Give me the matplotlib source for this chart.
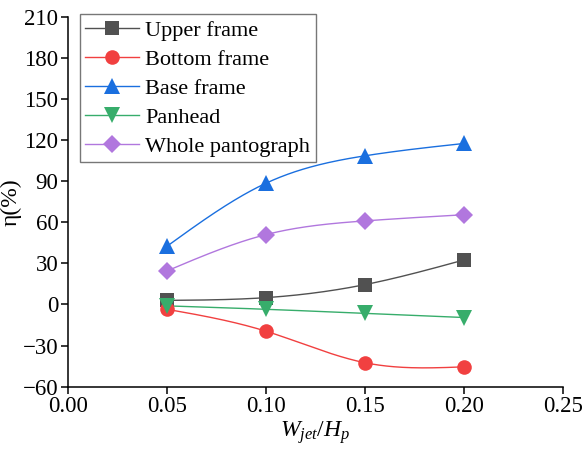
import numpy as np
import matplotlib.pyplot as plt
from matplotlib.lines import Line2D

plt.rcParams['font.family'] = 'Liberation Serif'
plt.rcParams['mathtext.fontset'] = 'custom'
plt.rcParams['mathtext.rm'] = 'Liberation Serif'
plt.rcParams['mathtext.it'] = 'Liberation Serif:italic'

# ratio of jet width to pantograph height
wjet = [0.05, 0.10, 0.15, 0.20]

upper = [3.0, 5.0, 14.5, 32.5]
bottom = [-3.5, -19.5, -42.5, -45.5]
base = [42.5, 88.5, 108.5, 117.5]
panhead = [-1.0, -3.5, -6.5, -9.5]
whole = [24.5, 51.0, 61.0, 65.5]

names = ['Upper frame', 'Bottom frame', 'Base frame', 'Panhead', 'Whole pantograph']
series = [upper, bottom, base, panhead, whole]
colors = ['#515151', '#F14040', '#1A6FDF', '#37AD6B', '#B177DE']
markers = ['s', 'o', '^', 'v', 'D']
msizes = [9.5, 10.5, 11, 11, 9.5]


def natural_spline(x, y, n=200):
  # natural cubic spline through the points, for the smooth connecting line
  x = np.asarray(x, float)
  y = np.asarray(y, float)
  k = len(x)
  h = np.diff(x)
  A = np.zeros((k, k))
  r = np.zeros(k)
  A[0, 0] = 1
  A[-1, -1] = 1
  for i in range(1, k - 1):
    A[i, i - 1] = h[i - 1]
    A[i, i] = 2 * (h[i - 1] + h[i])
    A[i, i + 1] = h[i]
    r[i] = 3 * ((y[i + 1] - y[i]) / h[i] - (y[i] - y[i - 1]) / h[i - 1])
  c = np.linalg.solve(A, r)
  xs = np.linspace(x[0], x[-1], n)
  idx = np.clip(np.searchsorted(x, xs) - 1, 0, k - 2)
  dx = xs - x[idx]
  b = (y[1:] - y[:-1]) / h - h * (2 * c[:-1] + c[1:]) / 3
  d = (c[1:] - c[:-1]) / (3 * h)
  ys = y[idx] + b[idx] * dx + c[idx] * dx ** 2 + d[idx] * dx ** 3
  return xs, ys


fig = plt.figure(figsize=(5.85, 4.54), dpi=100)
ax = fig.add_axes([0.1162, 0.1482, 0.8462, 0.815])

handles = []
for name, vals, col, mk, ms in zip(names, series, colors, markers, msizes):
  xs, ys = natural_spline(wjet, vals)
  ax.plot(xs, ys, '-', color=col, lw=1.0, zorder=2)
  ax.plot(wjet, vals, linestyle='none', marker=mk, color=col, ms=ms,
          markeredgewidth=0, zorder=3)
  handles.append(Line2D([], [], color=col, lw=1.0, marker=mk, ms=ms,
                        markeredgewidth=0, label=name))

ax.set_xlim(0, 0.25)
ax.set_ylim(-60, 210)
ax.set_xticks(np.arange(0, 0.26, 0.05))
ax.set_yticks(np.arange(-60, 211, 30))
ax.xaxis.set_major_formatter(plt.FormatStrFormatter('%.2f'))

for s in ['top', 'right']:
  ax.spines[s].set_visible(False)
for s in ['left', 'bottom']:
  ax.spines[s].set_linewidth(1.1)
ax.tick_params(direction='out', length=5, width=1.1, labelsize=16.5, pad=2)

ax.set_xlabel(r'$W_{jet}/H_p$', fontsize=17, labelpad=1)
ax.set_ylabel('η(%)', fontsize=17, labelpad=1)

leg = ax.legend(handles=handles, loc='upper left', bbox_to_anchor=(0.024, 1.006),
                fontsize=16, frameon=True, fancybox=False, edgecolor='#555555',
                handlelength=2.4, handletextpad=0.3, borderpad=0.25,
                labelspacing=0.38, borderaxespad=0)
leg.get_frame().set_linewidth(1.0)

fig.savefig('out.png', dpi=100)
